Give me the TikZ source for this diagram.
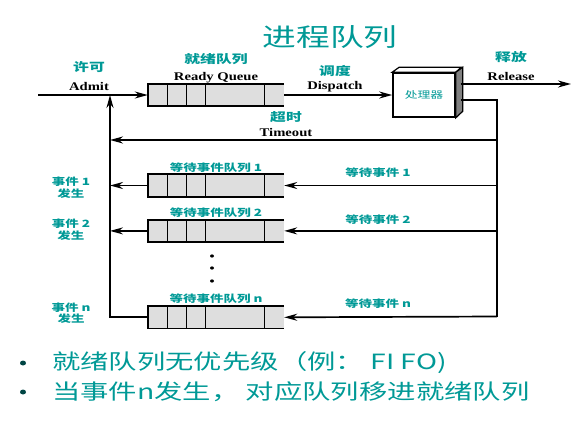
\documentclass[tikz,border=0pt]{standalone}
\usepackage{fontspec}
\setmainfont{Liberation Serif}[FakeStretch=1.25]
\newfontfamily\cjk{Noto Sans CJK SC}[FakeStretch=1.35]
\usepackage{xcolor}
\usepackage{tikz}
\usetikzlibrary{positioning, arrows.meta, calc}
\definecolor{tealtxt}{RGB}{0,153,150}
\definecolor{qgray}{RGB}{222,222,222}
\definecolor{sidegray}{RGB}{128,128,128}

\begin{document}
\begin{tikzpicture}[
  x=1pt, y=-1pt,
  lbl/.style={align=center, inner sep=0pt,
    font=\fontsize{11.7}{#1}\selectfont\bfseries},
  lbl/.default=17,
  cjklbl/.style={align=center, inner sep=0pt, text=tealtxt,
    font=\cjk\fontsize{10}{11.5}\selectfont\bfseries},
  bullettext/.style={anchor=west, inner sep=0pt, text=tealtxt,
    font=\cjk\fontsize{21}{21}\selectfont},
  queue/.style={fill=qgray, minimum width=136pt, minimum height=22pt, inner sep=0pt},
  qedge/.style={line width=1.8pt},
  flow/.style={draw, line width=1.7pt, -{Stealth[length=13pt,width=7pt]}},
  wire/.style={draw, line width=1.7pt}
]
\useasboundingbox (0,0) rectangle (573,421);

% Title
\node[inner sep=0pt, text=tealtxt, font=\cjk\fontsize{25}{25}\selectfont] (title) at (330,37) {进程队列};

% Queues
\node[queue] (rq) at (216,95) {};
\node[queue] (q1) at (216,185.5) {};
\node[queue, below=23pt of q1] (q2) {};
\node[queue, below=64pt of q2] (qn) {};
\foreach \q in {rq,q1,q2,qn} {
  \draw[qedge] (\q.north east) -- (\q.north west) -- (\q.south west) -- (\q.south east);
  \foreach \d in {20,39,58,117}
    \draw[line width=1pt] ($(\q.north west)+(\d,0)$) -- ($(\q.south west)+(\d,0)$);
}

% Processor
\node[draw, line width=1.6pt, fill=white, minimum width=62pt, minimum height=44pt,
  text=tealtxt, font=\cjk\fontsize{9.5}{9.5}\selectfont] (cpu) at (424,95) {处理器};
\draw[line width=1.2pt, fill=white] (cpu.north west) -- ++(7,-5) -- ++(62,0) -- (cpu.north east) -- cycle;
\draw[line width=1.2pt, fill=sidegray] (cpu.north east) -- ++(7,-5) -- ++(0,44) -- (cpu.south east) -- cycle;

% Labels
\node[lbl=19] (admit) at (89,76.5) {{\cjk\color{tealtxt}许可}\\Admit};
\node[lbl=17, above=1pt of rq] (ready) {{\cjk\color{tealtxt}就绪队列}\\Ready Queue};
\node[lbl=14] (dispatch) at (335,79) {{\cjk\color{tealtxt}调度}\\Dispatch};
\node[lbl=19] (release) at (511,66.5) {{\cjk\color{tealtxt}释放}\\Release};
\node[lbl=15] (timeout) at (286,124.5) {{\cjk\color{tealtxt}超时}\\Timeout};

\node[cjklbl, above=2pt of q1] (q1lbl) {等待事件队列 1};
\node[cjklbl, above=2pt of q2] (q2lbl) {等待事件队列 2};
\node[cjklbl, above=2pt of qn] (qnlbl) {等待事件队列 n};
\node[cjklbl] (w1) at (378,173) {等待事件 1};
\node[cjklbl] (w2) at (378,220) {等待事件 2};
\node[cjklbl] (wn) at (378,304) {等待事件 n};
\node[cjklbl] (ev1) at (71,187.5) {事件 1\\发生};
\node[cjklbl] (ev2) at (71,229.5) {事件 2\\发生};
\node[cjklbl] (evn) at (71,313) {事件 n\\发生};

% Dots
\foreach \y in {256,268,281}
  \fill (212,\y) ellipse (2 and 1.6);

% Points
\coordinate (start) at (38,95);
\coordinate (join) at (110,95);
\coordinate (relend) at (571,84);
\coordinate (rt) at (497,140);
\coordinate (rb) at (497,316.5);
\coordinate (tl) at (110,140);

% Arrows
\draw[flow] (start) -- (rq.west);
\draw[flow] (rq.east) -- (cpu.west);
\draw[flow] ($(cpu.east)+(5,-11)$) -- (relend);
\draw[wire] ($(cpu.east)+(5,5)$) -| (rb);
\draw[flow] (rt) -- (tl);
\draw[flow] (q1.east -| rb) -- (q1.east);
\draw[flow] (q2.east -| rb) -- (q2.east);
\draw[flow] (rb) -- (qn.east);
\draw[flow] (q1.west) -- (q1.west -| join);
\draw[flow] (q2.west) -- (q2.west -| join);
\draw[flow] (qn.west) -| (join);

% Bullets
\fill[tealtxt!45!black] (23,363) ellipse (3 and 2.5);
\fill[tealtxt!45!black] (23,392) ellipse (3 and 2.5);
\node[bullettext] (b1) at (52,363) {就绪队列无优先级（例： FI FO)};
\node[bullettext] (b2) at (52,392) {当事件n发生， 对应队列移进就绪队列};

\end{tikzpicture}
\end{document}
